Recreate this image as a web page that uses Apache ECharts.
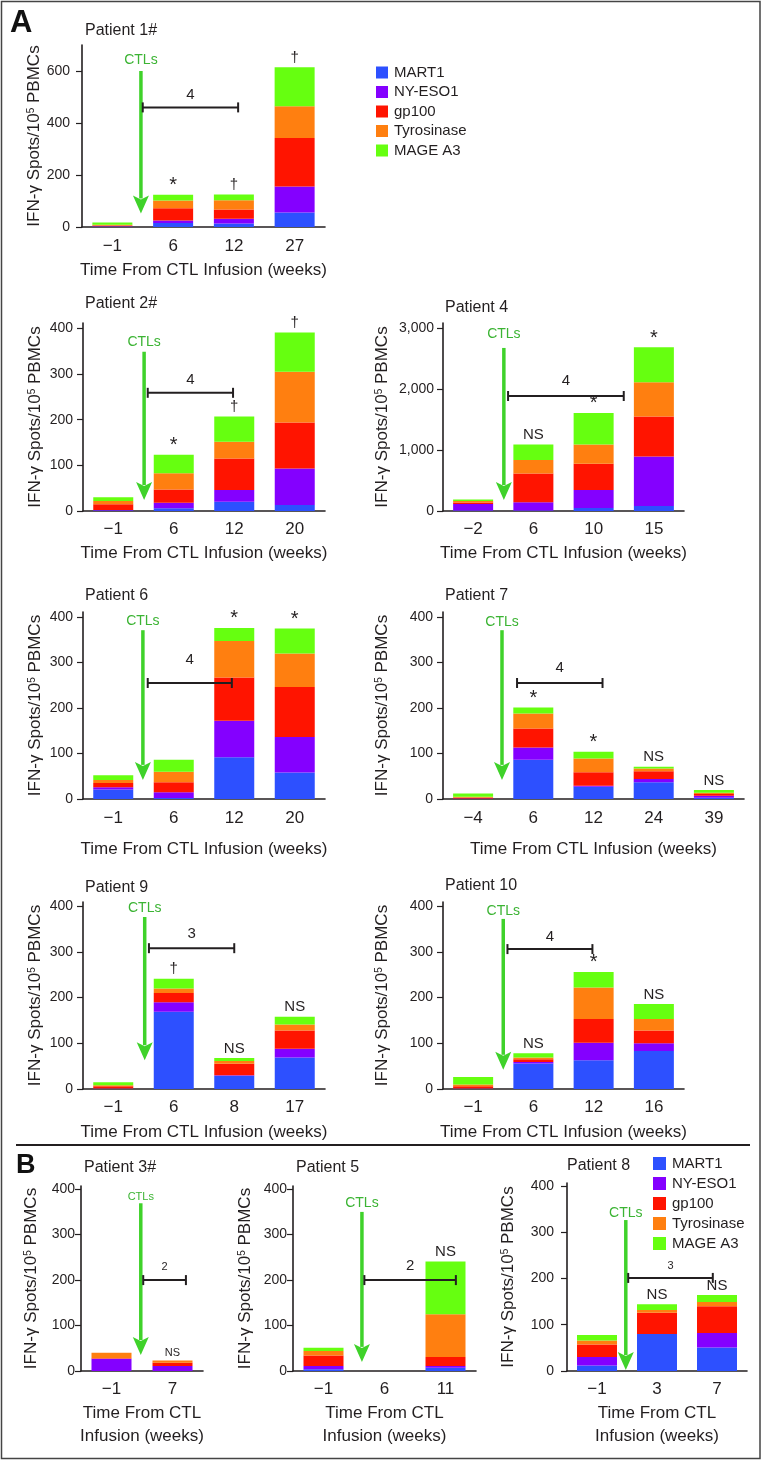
<!DOCTYPE html>
<html><head><meta charset="utf-8">
<script src="https://cdn.jsdelivr.net/npm/echarts@6/dist/echarts.min.js"></script>
<style>html,body{margin:0;padding:0;background:#fff}#c{width:762px;height:1461px}</style>
</head><body><div id="c"></div>
<script>
// ---------------- DATA ----------------
const antigens = ['MART1', 'NY-ESO1', 'gp100', 'Tyrosinase', 'MAGE A3'];
const xTitle = 'Time From CTL Infusion (weeks)';

// Patient 1#
const p1Weeks = ['\u22121', '6', '12', '27'];
const p1Mart1 = [2, 15, 13, 56];
const p1NyEso1 = [1, 10, 19, 100];
const p1Gp100 = [3, 47, 35, 186];
const p1Tyrosinase = [3, 30, 36, 122];
const p1MageA3 = [8, 22, 22, 150];
const p1Marks = ['', '*', '\u2020', '\u2020'];
const p1YTicks = [0, 200, 400, 600];
const p1Ctl = [0.47, 600, 52, 640];
const p1Bracket = [0.5, 2.07, 460, 507];
const p1BracketLabel = '4';

// Patient 2#
const p2Weeks = ['\u22121', '6', '12', '20'];
const p2Mart1 = [1, 6, 20, 13];
const p2NyEso1 = [1, 12, 26, 80];
const p2Gp100 = [13, 29, 69, 101];
const p2Tyrosinase = [7, 36, 37, 111];
const p2MageA3 = [8, 40, 55, 86];
const p2Marks = ['', '*', '\u2020', '\u2020'];
const p2YTicks = [0, 100, 200, 300, 400];
const p2Ctl = [0.51, 349, 24, 371];
const p2Bracket = [0.57, 1.98, 259, 287];
const p2BracketLabel = '4';

// Patient 4
const p4Weeks = ['\u22122', '6', '10', '15'];
const p4Mart1 = [10, 10, 49, 82];
const p4NyEso1 = [105, 133, 296, 812];
const p4Gp100 = [25, 472, 433, 658];
const p4Tyrosinase = [25, 225, 313, 565];
const p4MageA3 = [25, 252, 521, 576];
const p4Marks = ['', 'NS', '*', '*'];
const p4YTicks = [0, 1000, 2000, 3000];
const p4Ctl = [0.51, 2680, 180, 2910];
const p4Bracket = [0.58, 2.5, 1890, 2140];
const p4BracketLabel = '4';

// Patient 6
const p6Weeks = ['\u22121', '6', '12', '20'];
const p6Mart1 = [21, 2, 92, 58];
const p6NyEso1 = [5, 13, 80, 78];
const p6Gp100 = [9, 22, 95, 110];
const p6Tyrosinase = [7, 23, 80, 74];
const p6MageA3 = [10, 26, 29, 55];
const p6Marks = ['', '', '*', '*'];
const p6YTicks = [0, 100, 200, 300, 400];
const p6Ctl = [0.49, 371, 42, 391];
const p6Bracket = [0.57, 1.96, 255, 305];
const p6BracketLabel = '4';

// Patient 7
const p7Weeks = ['\u22124', '6', '12', '24', '39'];
const p7Mart1 = [0, 86, 27, 37, 3];
const p7NyEso1 = [1, 27, 2, 7, 4];
const p7Gp100 = [2, 42, 30, 17, 4];
const p7Tyrosinase = [2, 33, 30, 6, 3];
const p7MageA3 = [7, 13, 15, 4, 6];
const p7Marks = ['', '*', '*', 'NS', 'NS'];
const p7YTicks = [0, 100, 200, 300, 400];
const p7Ctl = [0.48, 371, 42, 389];
const p7Bracket = [0.73, 2.15, 255, 288];
const p7BracketLabel = '4';

// Patient 9
const p9Weeks = ['\u22121', '6', '8', '17'];
const p9Mart1 = [1, 169, 29, 69];
const p9NyEso1 = [0, 21, 1, 19];
const p9Gp100 = [5, 20, 25, 40];
const p9Tyrosinase = [2, 10, 6, 13];
const p9MageA3 = [7, 21, 7, 17];
const p9Marks = ['', '\u2020', 'NS', 'NS'];
const p9YTicks = [0, 100, 200, 300, 400];
const p9Ctl = [0.52, 376, 63, 396];
const p9Bracket = [0.59, 2.0, 308, 339];
const p9BracketLabel = '3';

// Patient 10
const p10Weeks = ['\u22121', '6', '12', '16'];
const p10Mart1 = [1, 56, 63, 83];
const p10NyEso1 = [0, 3, 38, 17];
const p10Gp100 = [5, 6, 52, 28];
const p10Tyrosinase = [4, 4, 69, 25];
const p10MageA3 = [16, 9, 34, 33];
const p10Marks = ['', 'NS', '*', 'NS'];
const p10YTicks = [0, 100, 200, 300, 400];
const p10Ctl = [0.5, 372, 42, 389];
const p10Bracket = [0.57, 1.98, 306, 333];
const p10BracketLabel = '4';

// Patient 3#
const p3Weeks = ['\u22121', '7'];
const p3Mart1 = [0, 0];
const p3NyEso1 = [27, 11];
const p3Gp100 = [1, 7];
const p3Tyrosinase = [12, 5];
const p3MageA3 = [0, 0];
const p3Marks = ['', 'NS'];
const p3YTicks = [0, 100, 200, 300, 400];
const p3Ctl = [0.48, 369, 35, 382];
const p3Bracket = [0.52, 1.22, 200, 229];
const p3BracketLabel = '2';

// Patient 5
const p5Weeks = ['\u22121', '6', '11'];
const p5Mart1 = [4, 0, 7];
const p5NyEso1 = [7, 0, 4];
const p5Gp100 = [23, 0, 20];
const p5Tyrosinase = [10, 0, 94];
const p5MageA3 = [7, 0, 116];
const p5Marks = ['', '', 'NS'];
const p5YTicks = [0, 100, 200, 300, 400];
const p5Ctl = [0.63, 350, 20, 369];
const p5Bracket = [0.67, 2.17, 200, 231];
const p5BracketLabel = '2';

// Patient 8
const p8Weeks = ['\u22121', '3', '7'];
const p8Mart1 = [12, 80, 51];
const p8NyEso1 = [18, 0, 31];
const p8Gp100 = [27, 46, 58];
const p8Tyrosinase = [9, 6, 9];
const p8MageA3 = [12, 12, 15];
const p8Marks = ['', 'NS', 'NS'];
const p8YTicks = [0, 100, 200, 300, 400];
const p8Ctl = [0.48, 326, 2, 341];
const p8Bracket = [0.52, 1.93, 201, 227];
const p8BracketLabel = '3';

// ---------------- LAYOUT / STYLE ----------------
const FONT = '"Liberation Sans", Arial, Helvetica, sans-serif';
const INK = '#231f20';
const colors = ['#2d50ff', '#8400ff', '#ff1400', '#ff7f10', '#66ff10'];
const arrowColor = '#3fd22a';
const ctlTextColor = '#3cb434';

const panels = [
  {title: 'Patient 1#', weeks: p1Weeks, vals: [p1Mart1, p1NyEso1, p1Gp100, p1Tyrosinase, p1MageA3], marks: p1Marks, yTicks: p1YTicks, ctl: p1Ctl, bracket: p1Bracket, bLabel: p1BracketLabel,
   left: 82, top: 45, width: 243, height: 182, yMax: 700, tx: 85, ty: 23, yGap: 39, yMargin: 12, xGap: 32, xMargin: 11, twoLine: false, ctlFont: 14, bFont: 15, mFont: 15},
  {title: 'Patient 2#', weeks: p2Weeks, vals: [p2Mart1, p2NyEso1, p2Gp100, p2Tyrosinase, p2MageA3], marks: p2Marks, yTicks: p2YTicks, ctl: p2Ctl, bracket: p2Bracket, bLabel: p2BracketLabel,
   left: 83, top: 323, width: 242, height: 188, yMax: 412, tx: 85, ty: 296, yGap: 39, yMargin: 10, xGap: 31, xMargin: 10, twoLine: false, ctlFont: 14, bFont: 15, mFont: 15},
  {title: 'Patient 4', weeks: p4Weeks, vals: [p4Mart1, p4NyEso1, p4Gp100, p4Tyrosinase, p4MageA3], marks: p4Marks, yTicks: p4YTicks, ctl: p4Ctl, bracket: p4Bracket, bLabel: p4BracketLabel,
   left: 443, top: 323, width: 241, height: 188, yMax: 3090, tx: 445, ty: 300, yGap: 52, yMargin: 9, xGap: 31, xMargin: 10, twoLine: false, ctlFont: 14, bFont: 15, mFont: 15},
  {title: 'Patient 6', weeks: p6Weeks, vals: [p6Mart1, p6NyEso1, p6Gp100, p6Tyrosinase, p6MageA3], marks: p6Marks, yTicks: p6YTicks, ctl: p6Ctl, bracket: p6Bracket, bLabel: p6BracketLabel,
   left: 83, top: 612, width: 242, height: 187, yMax: 411, tx: 85, ty: 588, yGap: 39, yMargin: 10, xGap: 39, xMargin: 11, twoLine: false, ctlFont: 14, bFont: 15, mFont: 15},
  {title: 'Patient 7', weeks: p7Weeks, vals: [p7Mart1, p7NyEso1, p7Gp100, p7Tyrosinase, p7MageA3], marks: p7Marks, yTicks: p7YTicks, ctl: p7Ctl, bracket: p7Bracket, bLabel: p7BracketLabel,
   left: 443, top: 612, width: 301, height: 187, yMax: 411, tx: 445, ty: 588, yGap: 52, yMargin: 10, xGap: 39, xMargin: 11, twoLine: false, ctlFont: 14, bFont: 15, mFont: 15},
  {title: 'Patient 9', weeks: p9Weeks, vals: [p9Mart1, p9NyEso1, p9Gp100, p9Tyrosinase, p9MageA3], marks: p9Marks, yTicks: p9YTicks, ctl: p9Ctl, bracket: p9Bracket, bLabel: p9BracketLabel,
   left: 83, top: 902, width: 242, height: 187, yMax: 409, tx: 85, ty: 880, yGap: 39, yMargin: 10, xGap: 32, xMargin: 10, twoLine: false, ctlFont: 14, bFont: 15, mFont: 15},
  {title: 'Patient 10', weeks: p10Weeks, vals: [p10Mart1, p10NyEso1, p10Gp100, p10Tyrosinase, p10MageA3], marks: p10Marks, yTicks: p10YTicks, ctl: p10Ctl, bracket: p10Bracket, bLabel: p10BracketLabel,
   left: 443, top: 902, width: 241, height: 187, yMax: 409, tx: 445, ty: 878, yGap: 52, yMargin: 10, xGap: 32, xMargin: 10, twoLine: false, ctlFont: 14, bFont: 15, mFont: 15},
  {title: 'Patient 3#', weeks: p3Weeks, vals: [p3Mart1, p3NyEso1, p3Gp100, p3Tyrosinase, p3MageA3], marks: p3Marks, yTicks: p3YTicks, ctl: p3Ctl, bracket: p3Bracket, bLabel: p3BracketLabel,
   left: 81, top: 1186, width: 122, height: 185, yMax: 407, tx: 84, ty: 1160, yGap: 41, yMargin: 6, xGap: 31, xMargin: 10, twoLine: true, ctlFont: 11, bFont: 11, mFont: 11},
  {title: 'Patient 5', weeks: p5Weeks, vals: [p5Mart1, p5NyEso1, p5Gp100, p5Tyrosinase, p5MageA3], marks: p5Marks, yTicks: p5YTicks, ctl: p5Ctl, bracket: p5Bracket, bLabel: p5BracketLabel,
   left: 293, top: 1186, width: 183, height: 185, yMax: 407, tx: 296, ty: 1160, yGap: 39, yMargin: 6, xGap: 31, xMargin: 10, twoLine: true, ctlFont: 14, bFont: 15, mFont: 15},
  {title: 'Patient 8', weeks: p8Weeks, vals: [p8Mart1, p8NyEso1, p8Gp100, p8Tyrosinase, p8MageA3], marks: p8Marks, yTicks: p8YTicks, ctl: p8Ctl, bracket: p8Bracket, bLabel: p8BracketLabel,
   left: 567, top: 1183, width: 180, height: 188, yMax: 406, tx: 567, ty: 1158, yGap: 50, yMargin: 13, xGap: 31, xMargin: 10, twoLine: true, ctlFont: 14, bFont: 11, mFont: 15}
];

const yName = 'IFN-\u03b3 Spots/10{s|5} PBMCs';

const grids = [], xAxes = [], yAxes = [], series = [], titles = [];

panels.forEach((p, i) => {
  const n = p.weeks.length;
  grids.push({left: p.left, top: p.top, width: p.width, height: p.height, containLabel: false, outerBoundsMode: 'none'});
  titles.push({text: p.title, left: p.tx, top: p.ty, padding: 0,
    textStyle: {fontFamily: FONT, fontSize: 16, fontWeight: 'normal', color: INK}});
  xAxes.push({
    type: 'category', gridIndex: i, data: p.weeks, position: 'bottom',
    axisLine: {onZero: false, lineStyle: {color: INK, width: 1.6}},
    axisTick: {alignWithLabel: true, length: 4, lineStyle: {color: INK, width: 1.2}},
    axisLabel: {fontFamily: FONT, fontSize: 17, color: INK, margin: p.xMargin, interval: 0},
    name: p.twoLine ? 'Time From CTL\nInfusion (weeks)' : xTitle,
    nameLocation: 'middle', nameGap: p.xGap, nameMoveOverlap: false,
    nameTextStyle: {fontFamily: FONT, fontSize: 17, color: INK, lineHeight: 23}
  });
  xAxes.push({type: 'value', gridIndex: i, min: -0.5, max: n - 0.5, show: false, position: 'top'});
  yAxes.push({
    type: 'value', gridIndex: i, min: 0, max: p.yMax, position: 'left',
    splitLine: {show: false},
    axisLine: {show: true, onZero: false, lineStyle: {color: INK, width: 1.6}},
    axisTick: {show: true, length: 6, customValues: p.yTicks, lineStyle: {color: INK, width: 1.2}},
    axisLabel: {customValues: p.yTicks, fontFamily: FONT, fontSize: 14, color: INK, margin: p.yMargin,
      formatter: v => Number(v).toLocaleString('en-US')},
    name: yName, nameLocation: 'middle', nameGap: p.yGap, nameRotate: 90, nameMoveOverlap: false,
    nameTextStyle: {fontFamily: FONT, fontSize: 17, color: INK,
      rich: {s: {fontFamily: FONT, fontSize: 10, color: INK, verticalAlign: 'top', lineHeight: 12}}}
  });
  const xi = 2 * i, xv = 2 * i + 1;
  antigens.forEach((a, k) => {
    const s = {
      type: 'bar', name: a, stack: 'p' + i, xAxisIndex: xi, yAxisIndex: i,
      data: p.vals[k], barWidth: 40, itemStyle: {color: colors[k]},
      emphasis: {disabled: true}, silent: true, animation: false
    };
    if (k === antigens.length - 1) {
      s.label = {show: true, position: 'top', distance: 2, fontFamily: FONT, fontSize: p.mFont, color: INK,
        formatter: prm => (p.marks[prm.dataIndex] === '*' ? '{st|*}' : p.marks[prm.dataIndex]),
        rich: {st: {fontFamily: FONT, fontSize: p.mFont + 5, color: INK, padding: [0, 0, -3, 0]}}};
    }
    series.push(s);
  });
  // CTL infusion arrow
  series.push({
    type: 'custom', name: 'ctl' + i, xAxisIndex: xv, yAxisIndex: i, data: [p.ctl], clip: false, silent: true, z: 5, animation: false,
    renderItem: (params, api) => {
      const x = api.value(0);
      const pTop = api.coord([x, api.value(1)]);
      const pTip = api.coord([x, api.value(2)]);
      const pLab = api.coord([x, api.value(3)]);
      const hh = 18, hw = 8;
      return {type: 'group', children: [
        {type: 'line', shape: {x1: pTop[0], y1: pTop[1], x2: pTip[0], y2: pTip[1] - hh + 3}, style: {stroke: arrowColor, lineWidth: 3.5}},
        {type: 'polygon', shape: {points: [[pTip[0] - hw, pTip[1] - hh], [pTip[0], pTip[1] - hh + 4], [pTip[0] + hw, pTip[1] - hh], [pTip[0], pTip[1]]]}, style: {fill: arrowColor}},
        {type: 'text', x: pLab[0], y: pLab[1], style: {text: 'CTLs', fill: ctlTextColor, font: p.ctlFont + 'px ' + FONT, align: 'center', verticalAlign: 'middle'}}
      ]};
    }
  });
  // interval bracket
  series.push({
    type: 'custom', name: 'br' + i, xAxisIndex: xv, yAxisIndex: i, data: [p.bracket], clip: false, silent: true, z: 5, animation: false,
    renderItem: (params, api) => {
      const x1 = api.value(0), x2 = api.value(1), y = api.value(2), ly = api.value(3);
      const a = api.coord([x1, y]), b = api.coord([x2, y]), l = api.coord([(x1 + x2) / 2, ly]);
      return {type: 'group', children: [
        {type: 'line', shape: {x1: a[0], y1: a[1], x2: b[0], y2: b[1]}, style: {stroke: INK, lineWidth: 2}},
        {type: 'line', shape: {x1: a[0], y1: a[1] - 5, x2: a[0], y2: a[1] + 5}, style: {stroke: INK, lineWidth: 2}},
        {type: 'line', shape: {x1: b[0], y1: b[1] - 5, x2: b[0], y2: b[1] + 5}, style: {stroke: INK, lineWidth: 2}},
        {type: 'text', x: l[0], y: l[1], style: {text: p.bLabel, fill: INK, font: p.bFont + 'px ' + FONT, align: 'center', verticalAlign: 'middle'}}
      ]};
    }
  });
});

const legendBase = {
  data: antigens, orient: 'vertical', icon: 'rect', selectedMode: false, padding: 0,
  itemWidth: 12, itemHeight: 12, itemGap: 4.5,
  textStyle: {fontFamily: FONT, fontSize: 15, color: INK, padding: [0, 0, 0, 1]}
};

const option = {
  animation: false,
  backgroundColor: '#fff',
  title: titles,
  grid: grids,
  xAxis: xAxes,
  yAxis: yAxes,
  legend: [
    Object.assign({}, legendBase, {left: 376, top: 65}),
    Object.assign({}, legendBase, {left: 653, top: 1156, itemWidth: 13, itemHeight: 13, itemGap: 5})
  ],
  series: series,
  graphic: [
    {type: 'rect', shape: {x: 1.5, y: 1.5, width: 758.5, height: 1457}, style: {fill: 'none', stroke: '#444', lineWidth: 1.5}, silent: true},
    {type: 'line', shape: {x1: 16, y1: 1145, x2: 750, y2: 1145}, style: {stroke: INK, lineWidth: 2}, silent: true},
    {type: 'text', left: 10, top: 8, style: {text: 'A', font: 'bold 31px ' + FONT, fill: '#111'}, silent: true},
    {type: 'text', left: 16, top: 1152, style: {text: 'B', font: 'bold 27px ' + FONT, fill: '#111'}, silent: true}
  ]
};

const chart = echarts.init(document.getElementById('c'), null, {renderer: 'canvas', width: 762, height: 1461});
chart.setOption(option);
</script>
</body></html>
